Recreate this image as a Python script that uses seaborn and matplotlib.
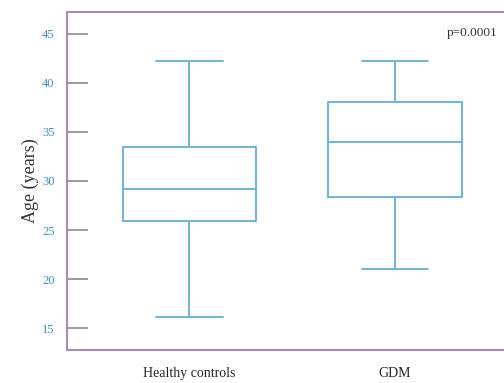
import matplotlib
matplotlib.use("Agg")
import matplotlib.pyplot as plt
import seaborn as sns
import pandas as pd

# five-number summaries (min, Q1, median, Q3, max)
groups = ["Healthy controls", "GDM"]
healthy_stats = [16.1, 25.9, 29.2, 33.5, 42.2]
gdm_stats = [21.0, 28.4, 34.0, 38.1, 42.2]
y_ticks = [15, 20, 25, 30, 35, 40, 45]
p_text = "p=0.0001"

df = pd.DataFrame({
    "group": [groups[0]] * 5 + [groups[1]] * 5,
    "age": healthy_stats + gdm_stats,
})

sns.set_style("white")
plt.rcParams["font.family"] = ["Liberation Serif", "DejaVu Serif"]

box_col = "#72b2d8"
frame_col = "#a58fb0"

fig = plt.figure(figsize=(5.04, 3.83), dpi=100)
ax = fig.add_axes([0.133, 0.086, 0.867, 0.883])

sns.boxplot(data=df, x="group", y="age", order=groups, whis=(0, 100),
            width=0.65, fill=False, color=box_col, linewidth=1.4, ax=ax,
            capprops={"color": box_col}, whiskerprops={"color": box_col},
            medianprops={"color": box_col}, boxprops={"color": box_col})

ax.set_xlim(-0.595, 1.53)
ax.set_ylim(12.76, 47.24)
ax.set_yticks(y_ticks)
ax.set_yticklabels([str(t) for t in y_ticks], color="#3a90c4", fontsize=9)
ax.tick_params(axis="y", direction="in", length=15, width=1.2, color="#8a8a8a", pad=9, left=True)
ax.tick_params(axis="x", length=0, pad=12, labelsize=10, labelcolor="#222222")
ax.set_xlabel("")
ax.set_ylabel("Age (years)", fontsize=13, color="#333333", labelpad=2)

for side in ["left", "top", "bottom"]:
    ax.spines[side].set_visible(True)
    ax.spines[side].set_color(frame_col)
    ax.spines[side].set_linewidth(1.5)
ax.spines["right"].set_visible(False)

ax.text(0.985, 0.955, p_text, transform=ax.transAxes, ha="right", va="top",
        fontsize=9.5, color="#333333")

fig.savefig("out.png", dpi=100)
